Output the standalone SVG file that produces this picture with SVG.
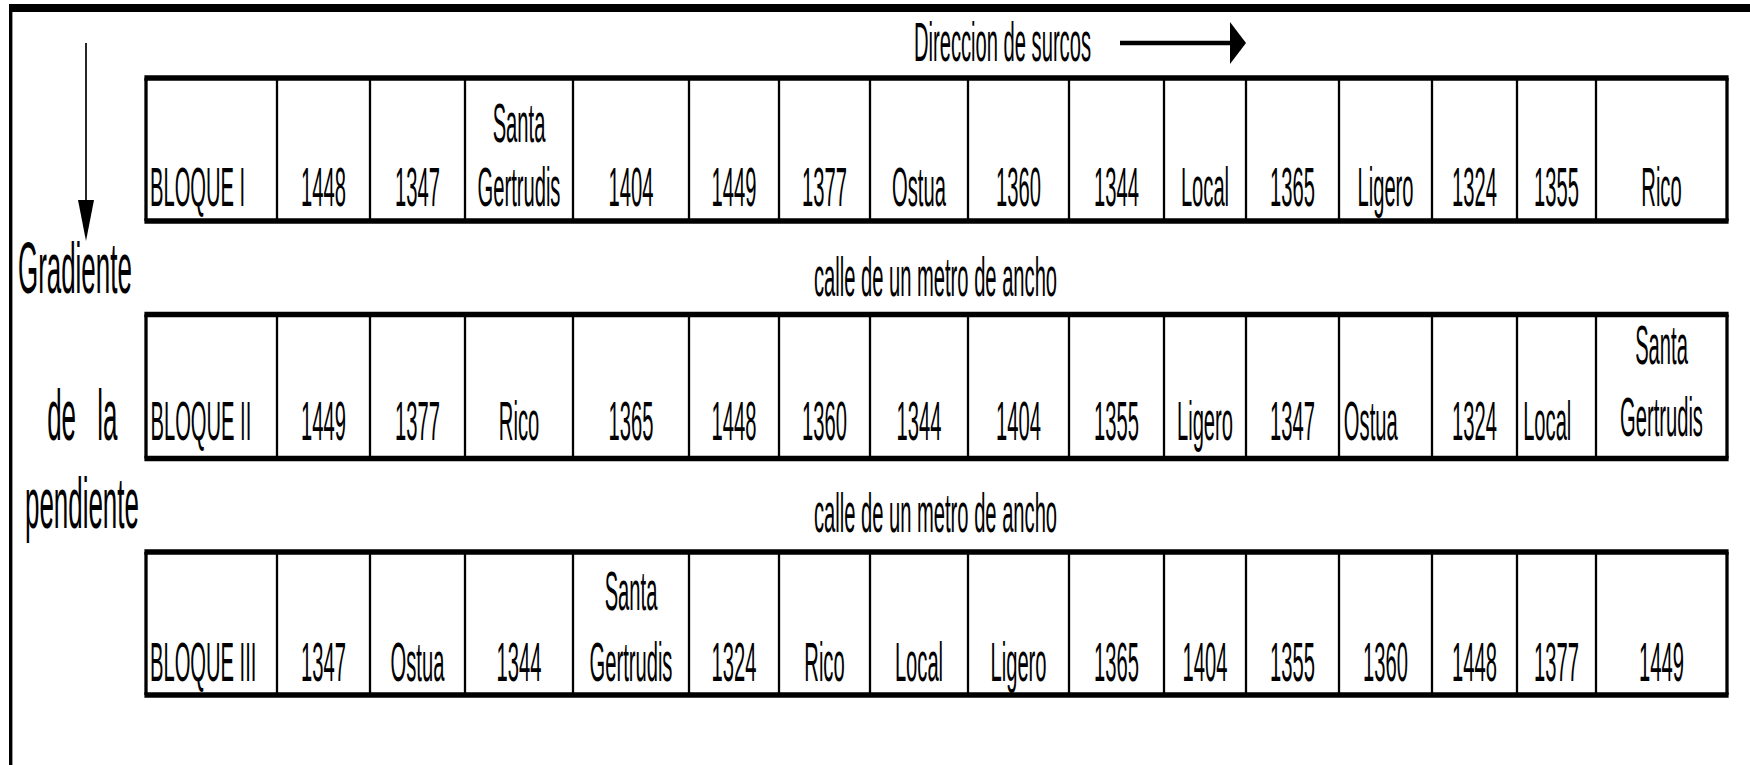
<svg xmlns="http://www.w3.org/2000/svg" width="1750" height="765" viewBox="0 0 1750 765">
<style>
  .bg { fill: #ffffff; }
  .frame { stroke: #000; fill: none; }
  .h { stroke: #000; stroke-width: 5.5; fill: none; }
  .vo { stroke: #000; stroke-width: 3.3; fill: none; }
  .vi { stroke: #000; stroke-width: 2.3; fill: none; }
  text { font-family: "Liberation Sans", Arial, sans-serif; fill: #000; }
  .cell text { font-size: 56px; text-anchor: middle; }
  .cell text.l { text-anchor: start; }
  .lab { font-size: 56px; text-anchor: middle; }
  .side { font-size: 72px; }
</style>
<rect class="bg" x="0" y="0" width="1750" height="765"/>

<g id="frame">
  <line class="frame" x1="9" y1="8" x2="1750" y2="8" stroke-width="8"/>
  <line class="frame" x1="10.7" y1="4" x2="10.7" y2="765" stroke-width="3.4"/>
</g>

<g id="connectors">
  <line x1="86" y1="43" x2="86" y2="201" stroke="#000" stroke-width="1.7"/>
  <polygon points="78,200 94,200 86,241" fill="#000"/>
  <line x1="1120" y1="43" x2="1231" y2="43" stroke="#000" stroke-width="4.5"/>
  <polygon points="1230,22 1230,64 1246,43" fill="#000"/>
</g>

<g id="labels">
  <g transform="scale(0.36 1)">
    <text class="lab" x="2784.7" y="61">Direccion de surcos</text>
    <text class="lab" x="2598.6" y="296">calle de un metro de ancho</text>
    <text class="lab" x="2598.6" y="532">calle de un metro de ancho</text>
    <text class="side" x="50" y="293">Gradiente</text>
    <text class="side" y="440"><tspan x="131">de</tspan> <tspan x="270">la</tspan></text>
    <text class="side" x="69.4" y="528">pendiente</text>
  </g>
</g>

<g id="bloque-1">
  <path class="h" d="M144.4 78H1728.6M144.4 221H1728.6"/>
  <path class="vo" d="M146 78V221M1727 78V221"/>
  <path class="vi" d="M277 78V221M370 78V221M465 78V221M573 78V221M689 78V221M779 78V221M870 78V221M968 78V221M1069 78V221M1164 78V221M1246 78V221M1339 78V221M1432 78V221M1517 78V221M1596 78V221"/>
  <g class="cell" transform="scale(0.36 1)">
    <text class="l" x="416.7" y="206">BLOQUE I</text>
    <text x="898.6" y="206">1448</text>
    <text x="1159.7" y="206">1347</text>
    <text x="1441.7" y="142">Santa</text>
    <text x="1441.7" y="206">Gertrudis</text>
    <text x="1752.8" y="206">1404</text>
    <text x="2038.9" y="206">1449</text>
    <text x="2290.3" y="206">1377</text>
    <text x="2552.8" y="206">Ostua</text>
    <text x="2829.2" y="206">1360</text>
    <text x="3101.4" y="206">1344</text>
    <text x="3347.2" y="206">Local</text>
    <text x="3590.3" y="206">1365</text>
    <text x="3848.6" y="206">Ligero</text>
    <text x="4095.8" y="206">1324</text>
    <text x="4323.6" y="206">1355</text>
    <text x="4615.3" y="206">Rico</text>
  </g>
</g>

<g id="bloque-2">
  <path class="h" d="M144.4 314.5H1728.6M144.4 458.5H1728.6"/>
  <path class="vo" d="M146 314.5V458.5M1727 314.5V458.5"/>
  <path class="vi" d="M277 314.5V458.5M370 314.5V458.5M465 314.5V458.5M573 314.5V458.5M689 314.5V458.5M779 314.5V458.5M870 314.5V458.5M968 314.5V458.5M1069 314.5V458.5M1164 314.5V458.5M1246 314.5V458.5M1339 314.5V458.5M1432 314.5V458.5M1517 314.5V458.5M1596 314.5V458.5"/>
  <g class="cell" transform="scale(0.36 1)">
    <text class="l" x="418" y="440">BLOQUE II</text>
    <text x="898.6" y="440">1449</text>
    <text x="1159.7" y="440">1377</text>
    <text x="1441.7" y="440">Rico</text>
    <text x="1752.8" y="440">1365</text>
    <text x="2038.9" y="440">1448</text>
    <text x="2290.3" y="440">1360</text>
    <text x="2552.8" y="440">1344</text>
    <text x="2829.2" y="440">1404</text>
    <text x="3101.4" y="440">1355</text>
    <text x="3347.2" y="440">Ligero</text>
    <text x="3590.3" y="440">1347</text>
    <text class="l" x="3733" y="440">Ostua</text>
    <text x="4095.8" y="440">1324</text>
    <text class="l" x="4231" y="440">Local</text>
    <text x="4615.3" y="364">Santa</text>
    <text x="4615.3" y="436">Gertrudis</text>
  </g>
</g>

<g id="bloque-3">
  <path class="h" d="M144.4 552H1728.6M144.4 695H1728.6"/>
  <path class="vo" d="M146 552V695M1727 552V695"/>
  <path class="vi" d="M277 552V695M370 552V695M465 552V695M573 552V695M689 552V695M779 552V695M870 552V695M968 552V695M1069 552V695M1164 552V695M1246 552V695M1339 552V695M1432 552V695M1517 552V695M1596 552V695"/>
  <g class="cell" transform="scale(0.36 1)">
    <text class="l" x="416.7" y="681">BLOQUE III</text>
    <text x="898.6" y="681">1347</text>
    <text x="1159.7" y="681">Ostua</text>
    <text x="1441.7" y="681">1344</text>
    <text x="1752.8" y="610">Santa</text>
    <text x="1752.8" y="681">Gertrudis</text>
    <text x="2038.9" y="681">1324</text>
    <text x="2290.3" y="681">Rico</text>
    <text x="2552.8" y="681">Local</text>
    <text x="2829.2" y="681">Ligero</text>
    <text x="3101.4" y="681">1365</text>
    <text x="3347.2" y="681">1404</text>
    <text x="3590.3" y="681">1355</text>
    <text x="3848.6" y="681">1360</text>
    <text x="4095.8" y="681">1448</text>
    <text x="4323.6" y="681">1377</text>
    <text x="4615.3" y="681">1449</text>
  </g>
</g>
</svg>
